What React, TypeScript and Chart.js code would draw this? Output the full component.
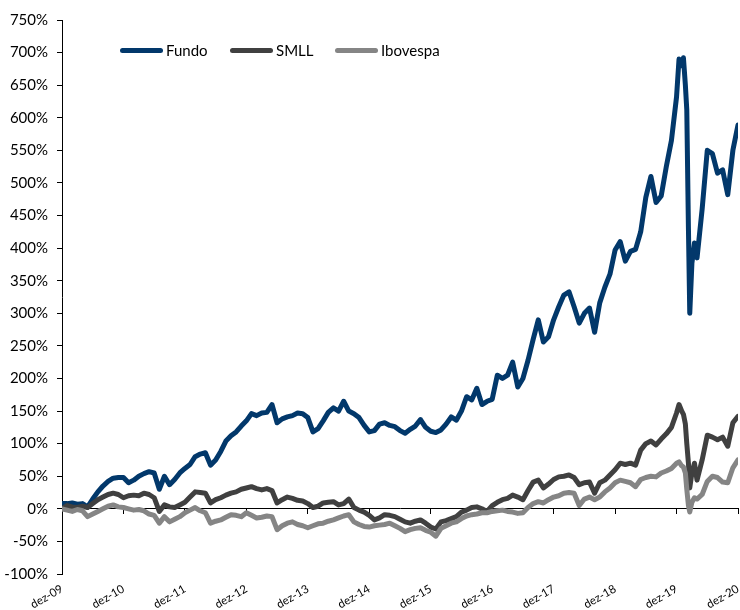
import React, { useEffect, useRef } from "react";
import { Chart, registerables } from "chart.js";

Chart.register(...registerables);

// Observation dates (month ends, plus a few extra points in early 2020)
const dates: string[] = [
  "2009-12-31",
  "2010-01-31", "2010-02-28", "2010-03-31", "2010-04-30", "2010-05-31", "2010-06-30", "2010-07-31", "2010-08-31", "2010-09-30", "2010-10-31", "2010-11-30", "2010-12-31",
  "2011-01-31", "2011-02-28", "2011-03-31", "2011-04-30", "2011-05-31", "2011-06-30", "2011-07-31", "2011-08-31", "2011-09-30", "2011-10-31", "2011-11-30", "2011-12-31",
  "2012-01-31", "2012-02-29", "2012-03-31", "2012-04-30", "2012-05-31", "2012-06-30", "2012-07-31", "2012-08-31", "2012-09-30", "2012-10-31", "2012-11-30", "2012-12-31",
  "2013-01-31", "2013-02-28", "2013-03-31", "2013-04-30", "2013-05-31", "2013-06-30", "2013-07-31", "2013-08-31", "2013-09-30", "2013-10-31", "2013-11-30", "2013-12-31",
  "2014-01-31", "2014-02-28", "2014-03-31", "2014-04-30", "2014-05-31", "2014-06-30", "2014-07-31", "2014-08-31", "2014-09-30", "2014-10-31", "2014-11-30", "2014-12-31",
  "2015-01-31", "2015-02-28", "2015-03-31", "2015-04-30", "2015-05-31", "2015-06-30", "2015-07-31", "2015-08-31", "2015-09-30", "2015-10-31", "2015-11-30", "2015-12-31",
  "2016-01-31", "2016-02-29", "2016-03-31", "2016-04-30", "2016-05-31", "2016-06-30", "2016-07-31", "2016-08-31", "2016-09-30", "2016-10-31", "2016-11-30", "2016-12-31",
  "2017-01-31", "2017-02-28", "2017-03-31", "2017-04-30", "2017-05-31", "2017-06-30", "2017-07-31", "2017-08-31", "2017-09-30", "2017-10-31", "2017-11-30", "2017-12-31",
  "2018-01-31", "2018-02-28", "2018-03-31", "2018-04-30", "2018-05-31", "2018-06-30", "2018-07-31", "2018-08-31", "2018-09-30", "2018-10-31", "2018-11-30", "2018-12-31",
  "2019-01-31", "2019-02-28", "2019-03-31", "2019-04-30", "2019-05-31", "2019-06-30", "2019-07-31", "2019-08-31", "2019-09-30", "2019-10-31", "2019-11-30", "2019-12-31",
  "2020-01-15", "2020-01-31", "2020-02-10", "2020-02-21", "2020-02-29", "2020-03-10", "2020-03-18", "2020-03-31", "2020-04-15", "2020-04-30", "2020-05-31", "2020-06-30", "2020-07-31", "2020-08-31", "2020-09-30", "2020-10-31", "2020-11-30", "2020-12-31",
];

// Cumulative returns (%)
const fundo: number[] = [
  8,
  8, 9, 7, 8, 3, 15, 26, 35, 42, 47, 48, 48,
  40, 44, 50, 54, 57, 55, 30, 50, 37, 45, 55, 62,
  68, 80, 84, 86, 67, 75, 88, 104, 112, 118, 127, 135,
  146, 143, 147, 148, 160, 132, 138, 141, 143, 147, 146, 140,
  118, 123, 135, 148, 155, 150, 165, 150, 146, 140, 128, 118,
  120, 130, 132, 128, 126, 120, 116, 122, 127, 137, 125, 119,
  117, 121, 130, 141, 136, 150, 172, 167, 185, 160, 165, 168,
  205, 200, 205, 225, 187, 200, 228, 260, 290, 256, 264, 290,
  310, 328, 333, 310, 285, 300, 308, 271, 316, 340, 360, 397,
  410, 380, 395, 398, 425, 478, 510, 470, 480, 525, 565, 632,
  690, 680, 692, 650, 612, 430, 300, 377, 408, 385, 460, 550, 545, 515, 520, 482, 550, 589,
];

const smll: number[] = [
  0,
  5, 3, 2, 4, 2, 8, 14, 18, 22, 24, 22, 17,
  20, 21, 20, 24, 22, 17, -4, 6, 3, 2, 6, 10,
  18, 26, 25, 24, 9, 14, 17, 21, 24, 26, 30, 32,
  34, 31, 29, 31, 28, 9, 14, 18, 16, 13, 12, 8,
  2, 4, 9, 10, 11, 6, 8, 15, 2, -2, -5, -10,
  -17, -14, -9, -10, -12, -16, -20, -22, -19, -17, -22, -28,
  -31, -20, -18, -15, -12, -5, -2, 2, 3, 0, -4, 5,
  10, 14, 16, 21, 18, 14, 28, 41, 44, 32, 38, 45,
  49, 50, 52, 48, 37, 40, 41, 24, 40, 44, 52, 60,
  70, 68, 70, 67, 90, 100, 104, 98, 107, 115, 125, 147,
  160, 150, 145, 130, 100, 70, 32, 55, 70, 44, 75, 113, 110, 106, 110, 96, 132, 142,
];

const ibovespa: number[] = [
  0,
  -2, -4, -1, -3, -12, -8, -4, 0, 4, 6, 3, 2,
  0, -2, -1, -3, -8, -10, -22, -12, -20, -16, -12, -6,
  -2, 2, -3, -6, -22, -19, -17, -13, -9, -10, -12, -6,
  -10, -14, -13, -11, -12, -32, -26, -22, -20, -24, -26, -29,
  -26, -23, -22, -19, -17, -14, -11, -9, -20, -24, -27, -28,
  -26, -25, -24, -22, -26, -30, -35, -32, -30, -29, -33, -36,
  -42, -30, -26, -22, -20, -15, -11, -9, -8, -6, -6, -4,
  -3, -2, -4, -5, -7, -6, 2, 8, 11, 9, 14, 18,
  20, 24, 25, 24, 5, 15, 18, 14, 18, 26, 32, 40,
  44, 42, 40, 34, 45, 48, 50, 49, 55, 58, 62, 70,
  72, 66, 64, 55, 30, 5, -5, 10, 17, 15, 22, 42, 50, 48, 41, 40, 63, 75,
];

const tickLabels: string[] = [
  "dez-09", "dez-10", "dez-11", "dez-12", "dez-13", "dez-14",
  "dez-15", "dez-16", "dez-17", "dez-18", "dez-19", "dez-20",
];

const seriesNames = ["Fundo", "SMLL", "Ibovespa"];
const seriesColors = ["#02386b", "#404040", "#858585"];

const Y_MIN = -100;
const Y_MAX = 750;
const Y_STEP = 50;

const FONT = "Lato, 'Liberation Sans', sans-serif";

function monthPos(d: string): number {
  const [Y, M, D] = d.split("-").map(Number);
  const dim = new Date(Y, M, 0).getDate();
  return (Y - 2009) * 12 + (M - 12) - 1 + D / dim;
}

export default function App() {
  const canvasRef = useRef<HTMLCanvasElement | null>(null);

  useEffect(() => {
    if (!canvasRef.current) return;
    const xs = dates.map(monthPos);
    const toPoints = (vals: number[]) => vals.map((v, i) => ({ x: xs[i], y: v }));
    const all = [fundo, smll, ibovespa];
    const xMax = (tickLabels.length - 1) * 12;

    const chart = new Chart(canvasRef.current, {
      type: "line",
      data: {
        datasets: all.map((vals, i) => ({
          label: seriesNames[i],
          data: toPoints(vals),
          borderColor: seriesColors[i],
          backgroundColor: seriesColors[i],
          borderWidth: 5,
          pointRadius: 0,
          tension: 0,
          borderJoinStyle: "round" as const,
          borderCapStyle: "round" as const,
          order: 3 - i,
          xAxisID: "x",
          yAxisID: "y",
        })),
      },
      options: {
        animation: false,
        responsive: false,
        maintainAspectRatio: false,
        layout: { padding: { top: 20, right: 2, left: 0, bottom: 0 } },
        plugins: {
          legend: { display: false },
          tooltip: { enabled: false },
        },
        scales: {
          x: {
            type: "linear",
            position: "bottom",
            min: 0,
            max: xMax,
            grid: { display: false, drawTicks: false },
            border: { display: false },
            ticks: {
              stepSize: 12,
              autoSkip: false,
              maxRotation: 30,
              minRotation: 30,
              padding: 8,
              color: "#000",
              font: { family: FONT, size: 11.5 },
              callback: (v: any) => {
                const idx = Math.round(Number(v) / 12);
                return Math.abs(Number(v) - idx * 12) < 1e-6 ? tickLabels[idx] : "";
              },
            },
            afterFit: (s: any) => {
              s.height = 36;
              s.paddingLeft = 0;
              s.paddingRight = 0;
            },
          },
          x0: {
            type: "linear",
            axis: "x",
            position: { y: 0 },
            min: 0,
            max: xMax,
            ticks: { display: false, stepSize: 12 },
            grid: { drawOnChartArea: false, drawTicks: true, tickLength: 5, color: "#000" },
            border: { display: true, color: "#000", width: 1 },
            afterFit: (s: any) => {
              s.paddingLeft = 0;
              s.paddingRight = 0;
            },
          },
          y: {
            type: "linear",
            min: Y_MIN,
            max: Y_MAX,
            grid: { drawOnChartArea: false, drawTicks: true, tickLength: 5, color: "#000" },
            border: { display: true, color: "#000", width: 1 },
            ticks: {
              stepSize: Y_STEP,
              padding: 9,
              color: "#000",
              font: { family: FONT, size: 15 },
              callback: (v: any) => `${v}%`,
            },
            afterFit: (s: any) => {
              s.width = 62;
            },
          },
        } as any,
      },
    });
    return () => chart.destroy();
  }, []);

  const legendItems = [
    { name: seriesNames[0], color: seriesColors[0], left: 120 },
    { name: seriesNames[1], color: seriesColors[1], left: 230 },
    { name: seriesNames[2], color: seriesColors[2], left: 335 },
  ];

  return (
    <div style={{ position: "absolute", left: 0, top: 0, width: 740, height: 610, background: "#fff" }}>
      <canvas ref={canvasRef} width={740} height={610} style={{ display: "block", width: 740, height: 610 }} />
      {legendItems.map((it) => (
        <div
          key={it.name}
          style={{
            position: "absolute",
            left: it.left,
            top: 40,
            height: 20,
            display: "flex",
            alignItems: "center",
            fontFamily: FONT,
            fontSize: 15,
            color: "#000",
            whiteSpace: "nowrap",
          }}
        >
          <span
            style={{
              display: "inline-block",
              width: 43,
              height: 5,
              borderRadius: 3,
              background: it.color,
              marginRight: 3,
            }}
          />
          <span>{it.name}</span>
        </div>
      ))}
    </div>
  );
}
